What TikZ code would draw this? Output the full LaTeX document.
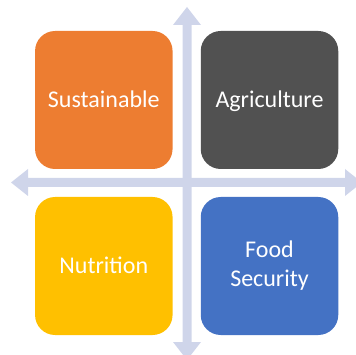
\documentclass[tikz,border=0pt]{standalone}
\usepackage{fontspec}
\setmainfont{Carlito}
\definecolor{arrowc}{HTML}{CFD5EA}
\definecolor{orangec}{HTML}{ED7D31}
\definecolor{grayc}{HTML}{515151}
\definecolor{yellowc}{HTML}{FFC000}
\definecolor{bluec}{HTML}{4472C4}
\begin{document}
\begin{tikzpicture}[x=1pt,y=-1pt,
  quad/.style={rounded corners=20pt, minimum width=137.5pt, minimum height=138pt,
    inner sep=0pt, text=white, font=\fontsize{24}{29}\selectfont, align=center},
  oneline/.style={text height=15.5pt, text depth=0pt},
  arrowfill/.style={fill=arrowc, draw=none}]
\useasboundingbox (0,0) rectangle (356,355);
% arrows
\coordinate (vtop) at (187,7);
\coordinate (vbot) at (187,360);
\coordinate (hleft) at (11,182.5);
\coordinate (hright) at (362,182.5);
\fill[arrowfill] (vtop) -- ++(14,18) -- ++(-9.5,0) -- (191.5,342) -- ++(9.5,0) -- (vbot) -- (173,342) -- ++(9.5,0) -- (182.5,25) -- ++(-9.5,0) -- cycle;
\fill[arrowfill] (hleft) -- ++(17,-13.5) -- ++(0,9) -- (345,178) -- ++(0,-9) -- (hright) -- (345,196) -- ++(0,-9) -- (28,187) -- ++(0,9) -- cycle;
% boxes
\node[quad, oneline, fill=orangec] (sus) at (103.8,100) {Sustainable};
\node[quad, oneline, fill=grayc] (agr) at (269.5,100) {Agriculture};
\node[quad, oneline, fill=yellowc] (nut) at (103.8,266) {Nutrition};
\node[quad, fill=bluec] (food) at (269.5,266) {Food\\Security};
\end{tikzpicture}
\end{document}
